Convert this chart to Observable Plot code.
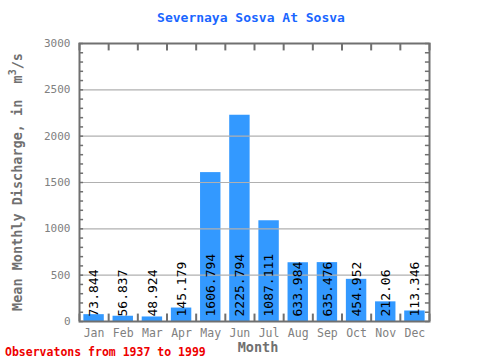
<!DOCTYPE html>
<html><head><meta charset="utf-8">
<script src="https://cdn.jsdelivr.net/npm/d3@7"></script>
<script src="https://cdn.jsdelivr.net/npm/@observablehq/plot@0.6"></script>
<style>body{margin:0;background:#fff}</style>
</head><body><div id="chart"></div>
<script>
const months = ["Jan","Feb","Mar","Apr","May","Jun","Jul","Aug","Sep","Oct","Nov","Dec"];
const discharge = [73.844,56.837,48.924,145.179,1606.794,2225.794,1087.111,633.984,635.476,454.952,212.06,113.346];
const labels = ["73.844","56.837","48.924","145.179","1606.794","2225.794","1087.111","633.984","635.476","454.952","212.06","113.346"];
const yTicks = [0,500,1000,1500,2000,2500,3000];
const gridLines = [500,1000,1500,2000,2500];
const title = "Severnaya Sosva At Sosva";
const caption = "Observatons from 1937 to 1999";

const data = months.map((m,i)=>({m, i:i+1, v:discharge[i], label:labels[i]}));
const minor = d3.range(0,3001,100);
const bounds = d3.range(0,13).map(k=>k+0.5);
const font = "DejaVu Sans Mono, monospace";
const gray = "#808080";
const tickX = 0.14;   // inward tick length in x units (~4px)
const tickY = 80;     // inward tick length in y units (~7px)

const plot = Plot.plot({
  width:480, height:360,
  marginLeft:79, marginRight:51, marginTop:43, marginBottom:39,
  style:{fontFamily:font, fontSize:"11px", color:gray, background:"#fff"},
  x:{domain:[0.5,12.5]},
  y:{domain:[0,3000]},
  marks:[
    Plot.rectY(data,{x1:d=>d.i-0.35,x2:d=>d.i+0.35,y:"v",fill:"#3399ff"}),
    Plot.ruleY(gridLines,{stroke:"#b0b0b0",strokeWidth:1.2}),
    Plot.ruleY(minor,{x1:0.5,x2:0.5+tickX,stroke:"#707070",strokeWidth:1.5}),
    Plot.ruleY(minor,{x1:12.5-tickX,x2:12.5,stroke:"#707070",strokeWidth:1.5}),
    Plot.ruleX(bounds,{y1:0,y2:tickY,stroke:"#707070",strokeWidth:2}),
    Plot.ruleX(bounds,{y1:3000-tickY,y2:3000,stroke:"#707070",strokeWidth:2}),
    Plot.axisY({ticks:yTicks,tickSize:0,tickFormat:d=>String(d),tickPadding:9,label:null,fill:gray,fontSize:11}),
    Plot.axisX({ticks:d3.range(1,13),tickSize:0,tickPadding:7,tickFormat:d=>months[d-1],label:null,fill:gray,fontSize:11.5}),
    Plot.frame({stroke:"#707070",strokeWidth:2}),
    Plot.text(data,{x:"i",y:0,text:"label",rotate:-90,textAnchor:"start",dy:-5,fill:"#000",fontSize:13,fontFamily:font})
  ]
});
document.getElementById("chart").append(plot);
const svg = d3.select(plot);
svg.append("text").attr("x",251).attr("y",22).attr("text-anchor","middle")
  .attr("fill","#1a66ff").attr("font-family",font).attr("font-size",13).attr("font-weight","bold").text(title);
svg.append("text").attr("x",258).attr("y",352).attr("text-anchor","middle")
  .attr("fill","#707070").attr("font-family",font).attr("font-size",13.5).attr("font-weight","bold").text("Month");
svg.append("text").attr("x",5).attr("y",356).attr("text-anchor","start")
  .attr("fill","#ee0000").attr("font-family",font).attr("font-size",11.5).attr("font-weight","bold").text(caption);
const yl = svg.append("text").attr("transform","translate(22,182) rotate(-90)").attr("text-anchor","middle")
  .attr("fill","#707070").attr("font-family",font).attr("font-size",13.5).attr("font-weight","bold");
yl.append("tspan").text("Mean Monthly Discharge, in  m");
yl.append("tspan").attr("dy",-6).attr("font-size",10).text("3");
yl.append("tspan").attr("dy",6).text("/s");
</script></body></html>
